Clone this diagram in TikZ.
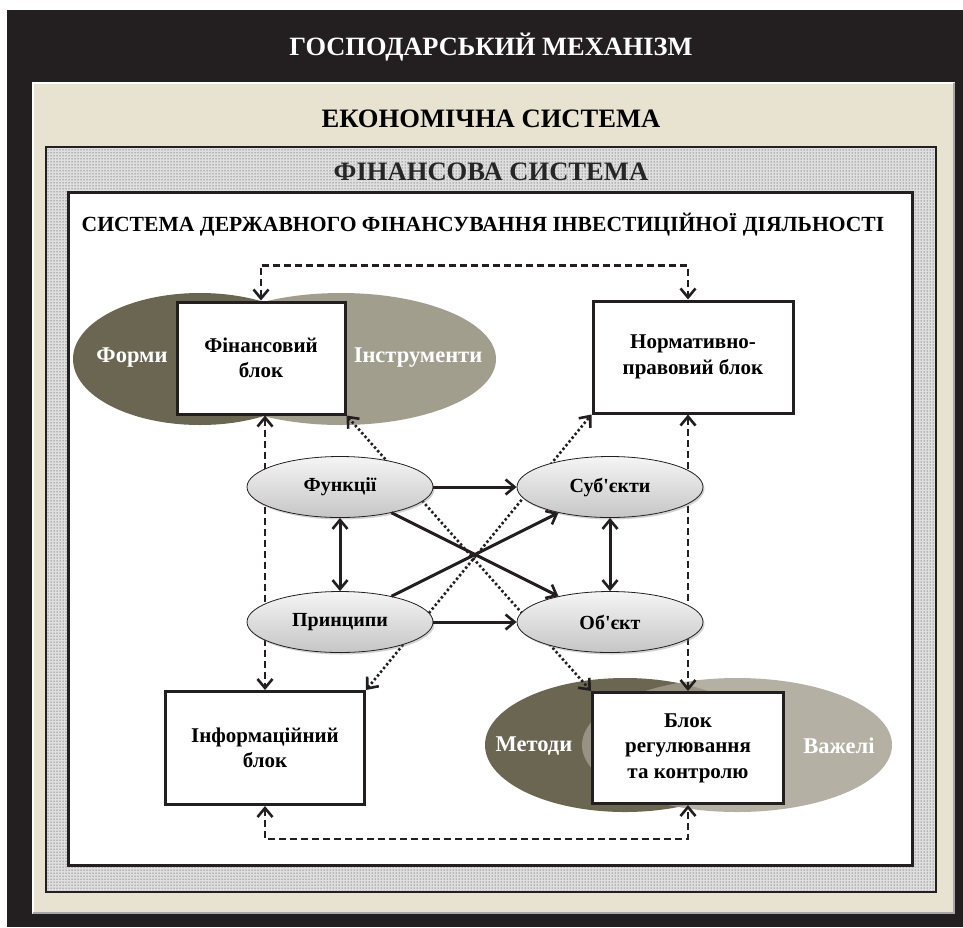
\documentclass[tikz,border=0pt]{standalone}
\usepackage{fontspec}
\setmainfont{Liberation Serif}
\usepackage{tikz}
\usetikzlibrary{arrows.meta,calc,positioning,shadows,patterns,shapes.geometric}

\definecolor{frameblack}{HTML}{231F20}
\definecolor{sand}{HTML}{E8E3D0}
\definecolor{olivedark}{HTML}{6B6651}
\definecolor{olivelight}{HTML}{A29E8E}

\pgfdeclarelayer{panels}
\pgfdeclarelayer{links}
\pgfsetlayers{panels,links,main}

\newcommand{\apos}{\textquotesingle}

\tikzset{
  blockbox/.style={draw=frameblack,line width=3pt,fill=white,align=center,
    font=\fontsize{21}{25.5}\selectfont\bfseries,inner sep=2pt},
  roundnode/.style={ellipse,draw=frameblack,line width=0.8pt,
    top color=gray!8,bottom color=gray!45,
    minimum width=186pt,minimum height=61pt,
    font=\fontsize{20}{22}\selectfont\bfseries,
    drop shadow={opacity=0.35,shadow xshift=1.5pt,shadow yshift=-2pt}},
  sidelabel/.style={text=white,font=\fontsize{22.5}{25}\selectfont\bfseries},
  strong/.style={line width=3pt,draw=frameblack},
  dashlink/.style={line width=2.2pt,draw=frameblack,dash pattern=on 7pt off 4pt},
  dotlink/.style={line width=2.6pt,draw=frameblack,dash pattern=on 2.4pt off 2.4pt}
}

\begin{document}
\begin{tikzpicture}[x=1pt,y=-1pt,
    >={Straight Barb[length=9pt,width=15pt,line width=2.6pt]},
    node distance=135pt,on grid]
  \useasboundingbox (0,0) rectangle (963,927);

  \begin{pgfonlayer}{panels}
    % outer frames
    \fill[frameblack] (7,10) rectangle (963,927);
    \fill[sand] (32,82) rectangle (955,914);
    \draw[white,line width=1.5pt] (33,913) -- (33,83) -- (954,83);
    \draw[gray!70,line width=2pt] (33,913) -- (954,913) -- (954,83);
    \fill[gray!25] (46,147) rectangle (936,892);
    \fill[pattern=dots,pattern color=black!85] (46,147) rectangle (936,892);
    \draw[frameblack,line width=2pt] (46,147) rectangle (936,892);
    \draw[frameblack,line width=3pt,fill=white] (68,192) rectangle (912,865);

    % petals round the blocks
    \fill[olivedark] (200,359) ellipse [x radius=127,y radius=66];
    \fill[olivelight] (341,359) ellipse [x radius=155,y radius=66];
    \fill[olivedark] (625,745) ellipse [x radius=140,y radius=67];
    \fill[olivelight,opacity=0.8] (737,745) ellipse [x radius=155,y radius=67];
  \end{pgfonlayer}

  % titles
  \node[text=white,font=\fontsize{26.4}{30}\selectfont\bfseries] (mech) at (491,47) {ГОСПОДАРСЬКИЙ МЕХАНІЗМ};
  \node[font=\fontsize{26.6}{30}\selectfont\bfseries] (econ) at (491,119) {ЕКОНОМІЧНА СИСТЕМА};
  \node[text=black!85,font=\fontsize{26.6}{30}\selectfont\bfseries] (fin) at (491,172) {ФІНАНСОВА СИСТЕМА};
  \node[font=\fontsize{21.6}{24}\selectfont\bfseries] (state) at (483,225)
    {СИСТЕМА ДЕРЖАВНОГО ФІНАНСУВАННЯ ІНВЕСТИЦІЙНОЇ ДІЯЛЬНОСТІ};

  % blocks
  \node[blockbox,minimum width=168pt,minimum height=112pt] (finblock) at (261,358) {Фінансовий\\блок};
  \node[blockbox,minimum width=200pt,minimum height=112pt] (normblock) at (693,357) {Нормативно-\\правовий блок};
  \node[blockbox,minimum width=199pt,minimum height=113pt] (infoblock) at (265,748) {Інформаційний\\блок};
  \node[blockbox,minimum width=191pt,minimum height=111pt] (regblock) at (688,748) {Блок\\регулювання\\та контролю};

  \node[sidelabel] (forms) at (132,358) {Форми};
  \node[sidelabel] (instr) at (418,358) {Інструменти};
  \node[sidelabel] (methods) at (534,746) {Методи};
  \node[sidelabel] (levers) at (839,746) {Важелі};

  % core elements
  \node[roundnode] (funct) at (340,487) {Функції};
  \node[roundnode] (princ) [below=of funct] {Принципи};
  \node[roundnode] (subj) [right=270pt of funct] {Суб\apos єкти};
  \node[roundnode] (obj) [below=of subj] {Об\apos єкт};

  \begin{pgfonlayer}{links}
    \draw[dotlink,<->] (finblock.south east) -- (regblock.north west);
    \draw[dotlink,<->] (infoblock.north east) -- (normblock.south west);
    \draw[dashlink,<->] (finblock.north) -- ++(0,-35) -| (regblock.north |- normblock.north);
    \draw[dashlink,<->] (infoblock.north |- finblock.south) -- (infoblock.north);
    \draw[dashlink,<->] (regblock.north |- normblock.south) -- (regblock.north);
    \draw[dashlink,<->] (infoblock.south) -- ++(0,33) -| (regblock.south);
  \end{pgfonlayer}

  \draw[strong,->] (funct) -- (subj);
  \draw[strong,->] (funct) -- (obj);
  \draw[strong,->] (princ) -- (subj);
  \draw[strong,->] (princ) -- (obj);
  \draw[strong,<->] (funct) -- (princ);
  \draw[strong,<->] (subj) -- (obj);
\end{tikzpicture}
\end{document}
